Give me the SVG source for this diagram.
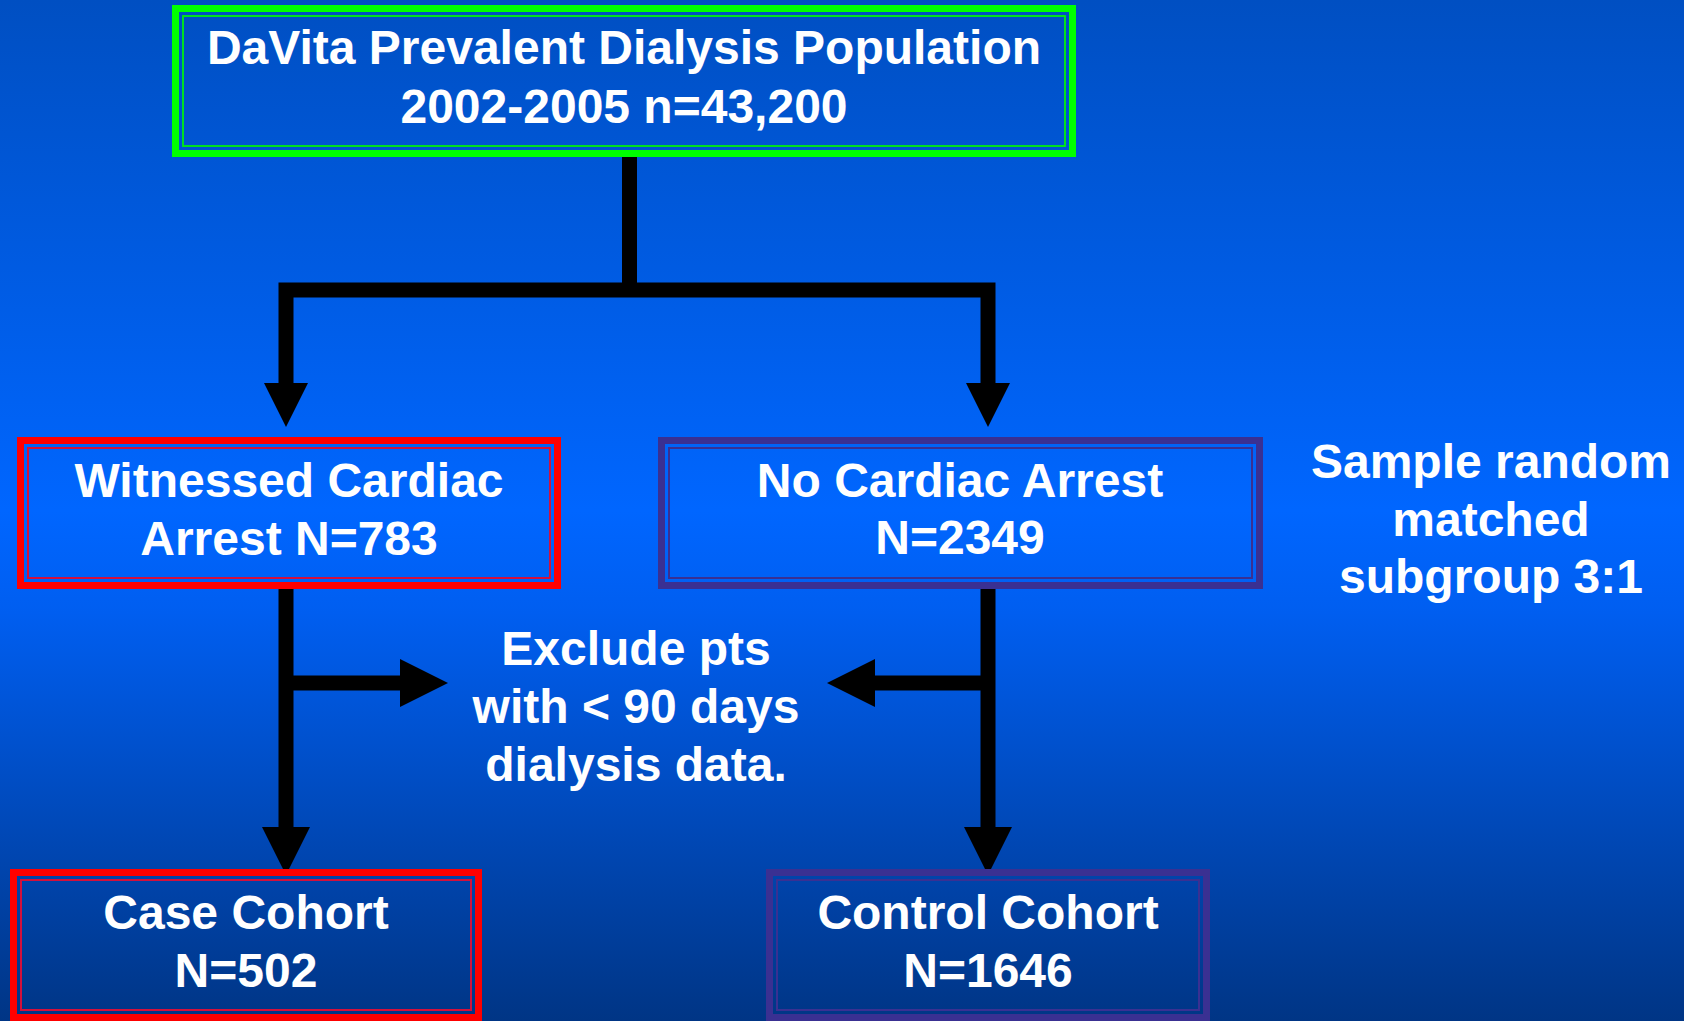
<svg xmlns="http://www.w3.org/2000/svg" width="1684" height="1021" viewBox="0 0 1684 1021">
<defs>
<linearGradient id="bg" x1="0" y1="0" x2="0" y2="1">
<stop offset="0" stop-color="#004fc2"/>
<stop offset="0.5" stop-color="#0066ff"/>
<stop offset="0.6" stop-color="#005ef0"/>
<stop offset="1" stop-color="#003585"/>
</linearGradient>
<style>
.t{font-family:"Liberation Sans",Arial,sans-serif;font-weight:bold;font-size:48px;fill:#ffffff;text-anchor:middle}
.o{fill:none;stroke-width:7}
.i{fill:none;stroke-width:2}
.g{stroke:#00ff00}
.gi{stroke:#00e020}
.r{stroke:#ff0000}
.ri{stroke:#d4103c}
.p{stroke:#3a3092}
.pi{stroke:#3a3092}
.ln{fill:none;stroke:#000;stroke-width:15;stroke-linejoin:miter;stroke-linecap:butt}
.ah{fill:#000}
</style>
</defs>
<rect x="0" y="0" width="1684" height="1021" fill="url(#bg)"/>
<g id="connectors">
<path class="ln" d="M629.5,155 V290"/>
<path class="ln" d="M286,384 V290 H988 V384"/>
<polygon class="ah" points="264,383 308,383 286,427"/>
<polygon class="ah" points="966,383 1010,383 988,427"/>
<path class="ln" d="M286,587 V828"/>
<polygon class="ah" points="262,827 310,827 286,875"/>
<path class="ln" d="M988,587 V828"/>
<polygon class="ah" points="964,827 1012,827 988,875"/>
<path class="ln" d="M286,683 H401"/>
<polygon class="ah" points="400,659 400,707 448,683"/>
<path class="ln" d="M988,683 H874"/>
<polygon class="ah" points="875,659 875,707 827,683"/>
</g>
<g id="n-population">
<rect class="o g" x="175.5" y="8.5" width="897" height="145"/>
<rect class="i gi" x="183" y="16" width="882" height="130"/>
<text class="t" x="624" y="64">DaVita Prevalent Dialysis Population</text>
<text class="t" x="624" y="123">2002-2005 n=43,200</text>
</g>
<g id="n-witnessed">
<rect class="o r" x="20.5" y="440.5" width="537" height="145"/>
<rect class="i ri" x="28" y="448" width="522" height="130"/>
<text class="t" x="289" y="497">Witnessed Cardiac</text>
<text class="t" x="289" y="555">Arrest N=783</text>
</g>
<g id="n-nocardiac">
<rect class="o p" x="661.5" y="440.5" width="598" height="145"/>
<rect class="i pi" x="669" y="448" width="583" height="130"/>
<text class="t" x="960" y="497">No Cardiac Arrest</text>
<text class="t" x="960" y="554">N=2349</text>
</g>
<g id="n-exclude">
<text class="t" x="636" y="665">Exclude pts</text>
<text class="t" x="636" y="723">with &lt; 90 days</text>
<text class="t" x="636" y="781">dialysis data.</text>
</g>
<g id="n-sample">
<text class="t" x="1491" y="478">Sample random</text>
<text class="t" x="1491" y="536">matched</text>
<text class="t" x="1491" y="593">subgroup 3:1</text>
</g>
<g id="n-case">
<rect class="o r" x="13.5" y="872.5" width="465" height="145"/>
<rect class="i ri" x="21" y="880" width="450" height="130"/>
<text class="t" x="246" y="929">Case Cohort</text>
<text class="t" x="246" y="987">N=502</text>
</g>
<g id="n-control">
<rect class="o p" x="769.5" y="872.5" width="437" height="145"/>
<rect class="i pi" x="777" y="880" width="422" height="130"/>
<text class="t" x="988" y="929">Control Cohort</text>
<text class="t" x="988" y="987">N=1646</text>
</g>
</svg>
